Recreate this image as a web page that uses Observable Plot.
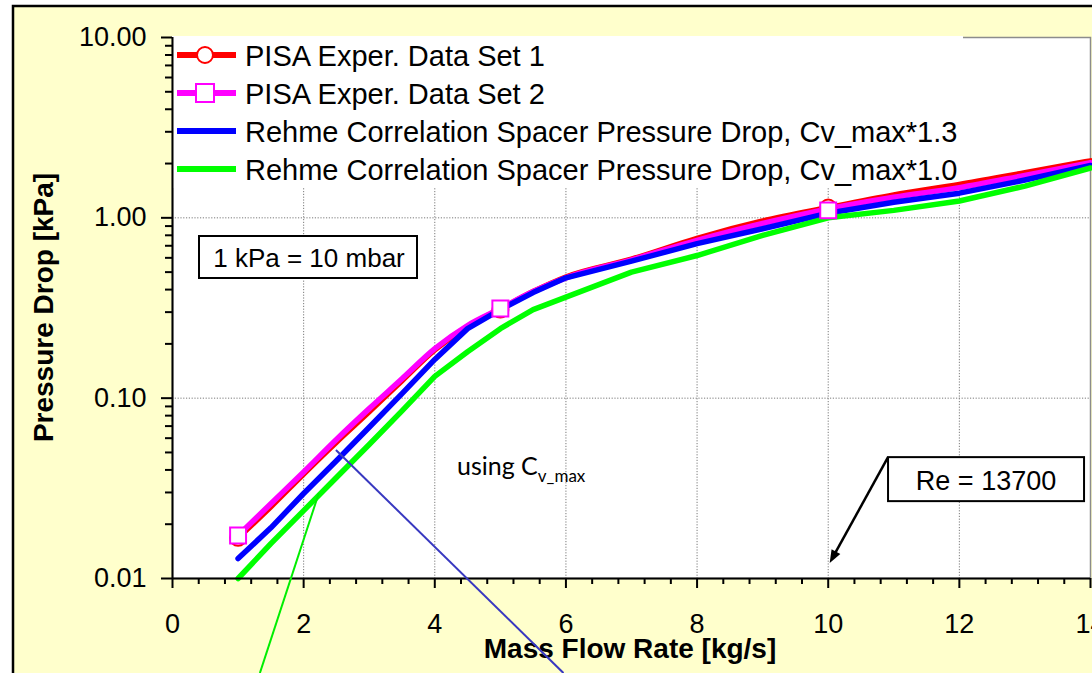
<!DOCTYPE html>
<html><head><meta charset="utf-8">
<script src="https://cdn.jsdelivr.net/npm/d3@7"></script>
<script src="https://cdn.jsdelivr.net/npm/@observablehq/plot@0.6"></script>
<style>
html,body{margin:0;padding:0;background:#fff;overflow:hidden;}
#chart svg{display:block;}
</style></head><body><div id="chart"></div>
<script>
// ---- data ----
const massFlow = [1,1.5,2,2.5,3,3.5,4,4.5,5,5.5,6,7,8,9,10,11,12,13,14];
const pisaSet1 = [0.0168,0.025,0.038,0.057,0.084,0.125,0.185,0.25,0.312,0.39,0.47,0.59,0.77,0.96,1.14,1.34,1.53,1.78,2.07];
const pisaSet2 = [0.0173,0.026,0.039,0.059,0.0875,0.128,0.188,0.253,0.314,0.39,0.465,0.585,0.75,0.93,1.12,1.30,1.47,1.72,2.02];
const rehme13  = [0.0129,0.0191,0.0296,0.045,0.069,0.106,0.164,0.243,0.31,0.385,0.465,0.575,0.72,0.87,1.06,1.22,1.37,1.62,1.95];
const rehme10  = [0.0100,0.0156,0.0238,0.0363,0.0553,0.085,0.132,0.181,0.243,0.31,0.363,0.50,0.618,0.80,1.0,1.10,1.24,1.50,1.89];
const markerFlow = [1,5,10];
const markerSet1 = [0.0168,0.31,1.14];
const markerSet2 = [0.0173,0.314,1.10];

const seriesNames = ["PISA Exper. Data Set 1","PISA Exper. Data Set 2",
  "Rehme Correlation Spacer Pressure Drop, Cv_max*1.3",
  "Rehme Correlation Spacer Pressure Drop, Cv_max*1.0"];
const seriesColors = ["#FF0000","#FF00FF","#0000FF","#00FF00"];

const xMajorTicks = [0,2,4,6,8,10,12,14];
const xMinorTicks = d3.range(0, 14.001, 0.4).map(d => +d.toFixed(1)).filter(d => Math.abs(d/2 - Math.round(d/2)) > 1e-6);
const yMajorTicks = [0.01,0.1,1,10];
const yMinorTicks = [0.02,0.03,0.04,0.05,0.06,0.07,0.08,0.09,0.2,0.3,0.4,0.5,0.6,0.7,0.8,0.9,2,3,4,5,6,7,8,9];

const xLabel = "Mass Flow Rate [kg/s]";
const yLabel = "Pressure Drop [kPa]";
const noteUnit = "1 kPa = 10 mbar";
const noteRe = "Re = 13700";
const noteRePoint = {x: 10.03, y: 0.0121};
const noteReBox = {x: 10.92, y: 0.0468};
const calloutBlue = [{x: 2.5, y: 0.0513}, {x: 5.97, y: 0.00297}];
const calloutGreen = [{x: 2.24, y: 0.0296}, {x: 1.34, y: 0.00297}];

const table = (ys) => massFlow.map((x, i) => ({x, y: ys[i]}));
const mtable = (ys) => markerFlow.map((x, i) => ({x, y: ys[i]}));

const W = 1092, H = 673, mL = 172, mT = 37, mR = 2, mB = 95;
const FONT = "'Liberation Sans', Arial, sans-serif";

const plot = Plot.plot({
  width: W, height: H,
  marginLeft: mL, marginTop: mT, marginRight: mR, marginBottom: mB,
  style: {background: "transparent", fontFamily: FONT, overflow: "visible", color: "black"},
  x: {domain: [0, 14]},
  y: {type: "log", domain: [0.01, 10]},
  marks: [
    Plot.frame({fill: "white", stroke: "#8c8c8c", strokeWidth: 1.5}),
    Plot.gridX({ticks: [2,4,6,8,10,12], stroke: "#7a7a7a", strokeOpacity: 1, strokeDasharray: "1.2,1.6", strokeWidth: 1}),
    Plot.gridY({ticks: [0.1, 1], stroke: "#7a7a7a", strokeOpacity: 1, strokeDasharray: "1.2,1.6", strokeWidth: 1}),
    Plot.line(table(pisaSet1), {x: "x", y: "y", stroke: seriesColors[0], strokeWidth: 5.5, curve: "monotone-x"}),
    Plot.line(table(pisaSet2), {x: "x", y: "y", stroke: seriesColors[1], strokeWidth: 5.5, curve: "monotone-x"}),
    Plot.line(table(rehme13), {x: "x", y: "y", stroke: seriesColors[2], strokeWidth: 5.5}),
    Plot.line(table(rehme10), {x: "x", y: "y", stroke: seriesColors[3], strokeWidth: 5.5}),
    Plot.dot(mtable(markerSet1), {x: "x", y: "y", r: 8, stroke: seriesColors[0], strokeWidth: 2, fill: "white"}),
    Plot.dot(mtable(markerSet2), {x: "x", y: "y", r: 9, symbol: "square", stroke: seriesColors[1], strokeWidth: 2, fill: "white"}),
    Plot.ruleX([0], {stroke: "black", strokeWidth: 2}),
    Plot.ruleY([0.01], {stroke: "black", strokeWidth: 2}),
    Plot.axisX({ticks: xMinorTicks, tickSize: 6, tickFormat: () => "", label: null, strokeWidth: 2}),
    Plot.axisX({ticks: xMajorTicks, tickSize: 10, tickPadding: 25, fontSize: 27, tickFormat: d => String(d), label: null, strokeWidth: 2}),
    Plot.axisY({ticks: yMinorTicks, tickSize: 7, tickFormat: () => "", label: null, strokeWidth: 2}),
    Plot.axisY({ticks: yMajorTicks, tickSize: 11, tickPadding: 15, fontSize: 27, tickFormat: d3.format(".2f"), label: null, strokeWidth: 2})
  ]
});
document.getElementById("chart").appendChild(plot);

const svg = d3.select(plot);
const sx = plot.scale("x"), sy = plot.scale("y");
const X = v => sx.apply(v), Y = v => sy.apply(v);

// outer chart area (light yellow with black border)
svg.insert("rect", ":first-child")
  .attr("x", 13).attr("y", 6).attr("width", W + 50).attr("height", H + 50)
  .attr("fill", "#FFFFCC").attr("stroke", "black").attr("stroke-width", 2.5);

// legend: white panel goes under the series, entries on top
const legX = mL, legY = mT - 1, legW = 791, legH = 152, rowY0 = 55, rowStep = 38;
const firstLine = plot.querySelector('g[aria-label="line"]');
const legBg = d3.select(plot.insertBefore(document.createElementNS("http://www.w3.org/2000/svg", "g"), firstLine));
legBg.append("rect").attr("x", legX).attr("y", legY).attr("width", legW).attr("height", legH).attr("fill", "white");
const leg = svg.append("g").attr("text-anchor", "start");
seriesNames.forEach((name, i) => {
  const cy = rowY0 + i * rowStep;
  leg.append("line").attr("x1", legX + 5).attr("x2", legX + 64).attr("y1", cy).attr("y2", cy)
    .attr("stroke", seriesColors[i]).attr("stroke-width", 6);
  if (i === 0) leg.append("circle").attr("cx", legX + 33).attr("cy", cy).attr("r", 8)
    .attr("fill", "white").attr("stroke", seriesColors[i]).attr("stroke-width", 2);
  if (i === 1) leg.append("rect").attr("x", legX + 33 - 9).attr("y", cy - 9).attr("width", 18).attr("height", 18)
    .attr("fill", "white").attr("stroke", seriesColors[i]).attr("stroke-width", 2);
  leg.append("text").attr("x", legX + 73).attr("y", cy + 11).attr("font-size", 29).attr("text-anchor", "start")
    .attr("font-family", FONT).attr("fill", "black").text(name);
});

// axis titles
svg.append("text").attr("x", (mL + W - mR) / 2 - 1).attr("y", 658).attr("text-anchor", "middle")
  .attr("font-size", 28).attr("font-weight", "bold").attr("font-family", FONT).text(xLabel);
svg.append("text").attr("transform", `translate(53,${(mT + H - mB) / 2}) rotate(-90)`).attr("text-anchor", "middle")
  .attr("font-size", 28).attr("font-weight", "bold").attr("font-family", FONT).text(yLabel);

// "1 kPa = 10 mbar" box
svg.append("rect").attr("x", 199).attr("y", 236).attr("width", 218).attr("height", 42)
  .attr("fill", "white").attr("stroke", "black").attr("stroke-width", 2);
svg.append("text").attr("x", 309).attr("y", 267).attr("text-anchor", "middle").attr("font-size", 26)
  .attr("font-family", FONT).text(noteUnit);

// "using C v_max"
const u = svg.append("text").attr("x", 457).attr("y", 475).attr("font-size", 25).attr("text-anchor", "start")
  .attr("font-family", "Lato, 'Open Sans', sans-serif").attr("fill", "black");
u.append("tspan").text("using C");
u.append("tspan").attr("dy", 7).attr("font-size", 17).text("v_max");

// Re box and arrow
const bx = X(noteReBox.x), by = Y(noteReBox.y);
svg.append("rect").attr("x", bx).attr("y", by).attr("width", 196).attr("height", 44)
  .attr("fill", "white").attr("stroke", "black").attr("stroke-width", 2);
svg.append("text").attr("x", bx + 98).attr("y", by + 33).attr("text-anchor", "middle").attr("font-size", 27)
  .attr("font-family", FONT).text(noteRe);
const ax = X(noteRePoint.x), ay = Y(noteRePoint.y);
const ang = Math.atan2(ay - by, ax - bx), hl = 13, hw = 5;
svg.append("line").attr("x1", bx).attr("y1", by).attr("x2", ax - Math.cos(ang) * hl * 0.8).attr("y2", ay - Math.sin(ang) * hl * 0.8)
  .attr("stroke", "black").attr("stroke-width", 2.5);
const px = -Math.sin(ang), py = Math.cos(ang);
svg.append("polygon").attr("points", [
  [ax, ay],
  [ax - Math.cos(ang) * hl + px * hw, ay - Math.sin(ang) * hl + py * hw],
  [ax - Math.cos(ang) * hl - px * hw, ay - Math.sin(ang) * hl - py * hw]
].map(p => p.join(",")).join(" ")).attr("fill", "black");

// callout lines
svg.append("line").attr("x1", X(calloutBlue[0].x)).attr("y1", Y(calloutBlue[0].y))
  .attr("x2", X(calloutBlue[1].x)).attr("y2", Y(calloutBlue[1].y)).attr("stroke", "#3838C0").attr("stroke-width", 2);
svg.append("line").attr("x1", X(calloutGreen[0].x)).attr("y1", Y(calloutGreen[0].y))
  .attr("x2", X(calloutGreen[1].x)).attr("y2", Y(calloutGreen[1].y)).attr("stroke", "#00EE00").attr("stroke-width", 2);
</script></body></html>
